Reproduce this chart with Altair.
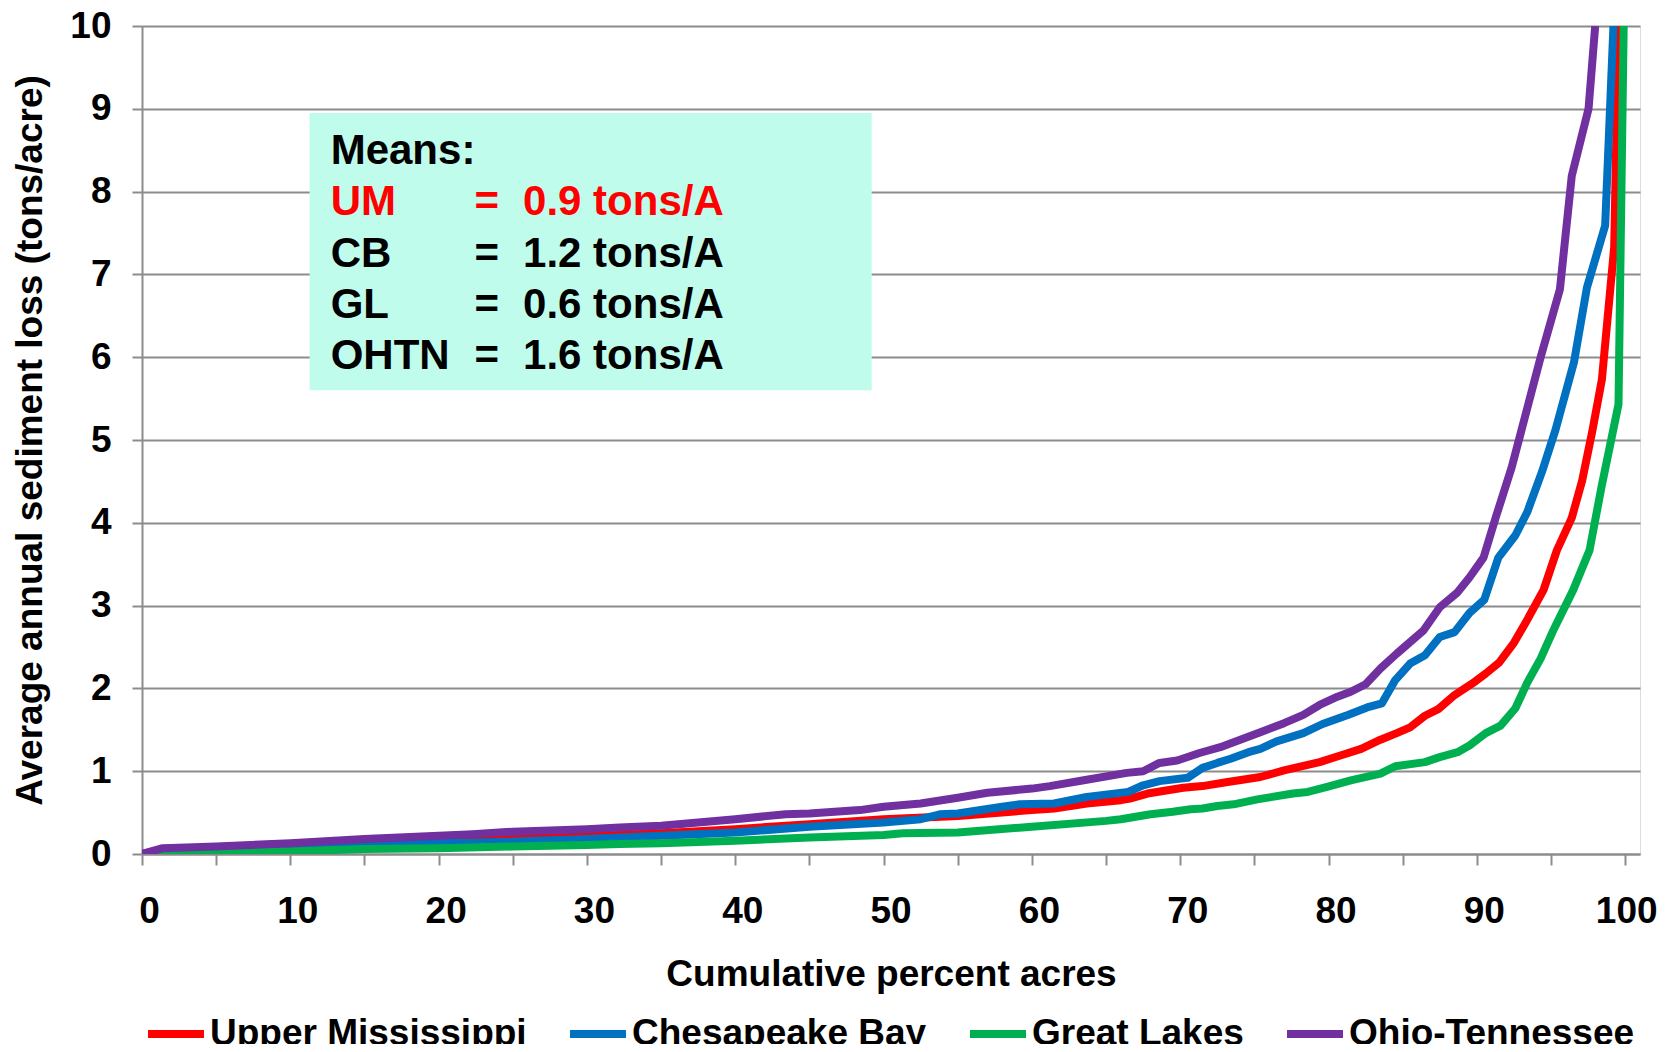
import altair as alt
import pandas as pd

FONT = "Liberation Sans"

series_names = ["Upper Mississippi", "Chesapeake Bay", "Great Lakes", "Ohio-Tennessee"]
series_colors = ["#FF0000", "#0070C0", "#00B050", "#7030A0"]

um_x = [0, 1, 5, 10, 15, 20, 25, 30, 32.2, 35, 40, 45, 50, 55, 60, 61.5, 63.7, 66, 66.6, 67.8,
        70.2, 71.5, 73.2, 75.4, 77.0, 79.4, 80.8, 82.2, 83.5, 84.6, 85.5, 86.5, 87.4, 88.5, 89.7,
        90.6, 91.5, 92.5, 93.4, 94.5, 95.4, 96.4, 97.1, 97.8, 98.43, 99.26, 99.55]
um_y = [0, 0.04, 0.06, 0.10, 0.14, 0.18, 0.20, 0.22, 0.23, 0.25, 0.30, 0.36, 0.42, 0.46, 0.53,
        0.55, 0.61, 0.65, 0.67, 0.73, 0.80, 0.82, 0.87, 0.93, 1.01, 1.11, 1.19, 1.27, 1.38, 1.46,
        1.53, 1.67, 1.75, 1.92, 2.06, 2.18, 2.31, 2.55, 2.83, 3.19, 3.67, 4.06, 4.51, 5.12, 5.73,
        7.33, 10.0]

cb_x = [0, 1, 5, 10, 15, 20, 25, 30, 32.2, 35, 40, 45, 50, 52.5, 53.8, 55, 58, 59.2, 61.5, 63.7,
        66.5, 67.5, 68.6, 70.5, 71.5, 72.5, 73.4, 74.6, 75.4, 76.5, 78.3, 79.6, 81.3, 82.6, 83.6,
        84.5, 85.5, 86.5, 87.5, 88.5, 89.5, 90.5, 91.45, 92.6, 93.4, 94.4, 95.3, 96.55, 97.42,
        98.65, 99.21]
cb_y = [0, 0.02, 0.05, 0.07, 0.10, 0.13, 0.15, 0.18, 0.20, 0.22, 0.26, 0.33, 0.38, 0.42, 0.48,
        0.49, 0.57, 0.60, 0.61, 0.69, 0.75, 0.83, 0.88, 0.92, 1.04, 1.10, 1.15, 1.23, 1.27, 1.36,
        1.46, 1.57, 1.68, 1.77, 1.82, 2.10, 2.30, 2.40, 2.62, 2.68, 2.91, 3.07, 3.58, 3.85, 4.13,
        4.62, 5.12, 5.94, 6.84, 7.59, 10.0]

gl_x = [0, 2, 5, 10, 15, 20, 25, 30, 32.2, 35, 40, 45, 50, 51.3, 55, 60, 65, 66, 68, 69.5, 70.7,
        71.5, 72.5, 73.6, 75.2, 77.6, 78.6, 79.9, 81.5, 83.5, 84.5, 86.5, 87.5, 88.7, 89.5, 90.6,
        91.6, 92.6, 93.4, 94.3, 95.1, 96.5, 97.6, 98.4, 99.55, 99.9]
gl_y = [0, 0.0, 0.01, 0.03, 0.06, 0.07, 0.09, 0.11, 0.12, 0.13, 0.16, 0.20, 0.23, 0.25, 0.26,
        0.33, 0.40, 0.42, 0.48, 0.51, 0.54, 0.55, 0.58, 0.60, 0.66, 0.73, 0.75, 0.81, 0.89, 0.97,
        1.06, 1.11, 1.17, 1.23, 1.31, 1.46, 1.55, 1.76, 2.07, 2.36, 2.68, 3.19, 3.67, 4.43, 5.43,
        10.0]

oh_x = [0, 1.4, 5, 10, 15, 20, 22.3, 25, 30, 32.2, 35, 40, 43.4, 45, 48.4, 50, 52.5, 55, 57, 60,
        61.2, 63.5, 66.4, 67.5, 68.6, 69.8, 71.3, 72.7, 73.6, 75.4, 77.0, 78.3, 79.4, 80.6, 81.5,
        82.5, 83.5, 84.6, 86.4, 87.5, 88.7, 89.5, 90.45, 91.3, 92.35, 94.3, 95.6, 96.4, 97.53,
        97.98]
oh_y = [0, 0.07, 0.09, 0.13, 0.18, 0.22, 0.24, 0.27, 0.30, 0.32, 0.34, 0.42, 0.48, 0.49, 0.53,
        0.57, 0.61, 0.68, 0.74, 0.79, 0.82, 0.89, 0.98, 1.00, 1.10, 1.13, 1.22, 1.29, 1.35, 1.47,
        1.58, 1.68, 1.80, 1.90, 1.96, 2.05, 2.24, 2.42, 2.70, 2.98, 3.16, 3.34, 3.58, 4.08, 4.67,
        6.00, 6.82, 8.19, 9.00, 10.0]

x_ticks = list(range(0, 101, 5))
y_ticks = list(range(0, 11))

means_labels = ["Means:", "UM", "CB", "GL", "OHTN"]
means_eq = ["", "=", "=", "=", "="]
means_values = ["", "0.9 tons/A", "1.2 tons/A", "0.6 tons/A", "1.6 tons/A"]
means_colors = ["#000000", "#FF0000", "#000000", "#000000", "#000000"]
means_rows_y = [8.49, 7.87, 7.25, 6.625, 6.01]
box_x = [11.3, 49.2]
box_y = [5.6, 8.95]

# ---------------------------------------------------------------------------
all_series = [(series_names[0], um_x, um_y), (series_names[1], cb_x, cb_y),
              (series_names[2], gl_x, gl_y), (series_names[3], oh_x, oh_y)]

xscale = alt.Scale(domain=[0, 101], nice=False, zero=False)
yscale = alt.Scale(domain=[0, 10], nice=False)

grid_color = "#8C8C8C"

xaxis = alt.Axis(values=x_ticks, labelExpr="datum.value % 10 == 0 ? datum.label : ''",
                 grid=False, tickSize=11, tickColor=grid_color, tickWidth=2,
                 domainColor=grid_color, domainWidth=2, labelPadding=28,
                 labelOffset={"condition": {"test": "datum.value == 100", "value": 1}, "value": 7},
                 labelFont=FONT, labelFontSize=37, labelFontWeight="bold", labelColor="black",
                 titleFont=FONT, titleFontSize=37, titleFontWeight="bold", titleColor="black",
                 titleY=131.6, titleBaseline="alphabetic", labelFlush=False, labelOverlap=False)
yaxis = alt.Axis(values=y_ticks, grid=True, gridColor=grid_color, gridWidth=2,
                 tickSize=10, tickColor=grid_color, tickWidth=2,
                 domainColor=grid_color, domainWidth=2, labelPadding=21,
                 labelFont=FONT, labelFontSize=37, labelFontWeight="bold", labelColor="black",
                 titleFont=FONT, titleFontSize=37, titleFontWeight="bold", titleColor="black",
                 titleX=-112, titleBaseline="middle", labelFlush=False, labelOverlap=False)

XT = "Cumulative percent acres"
YT = "Average annual sediment loss (tons/acre)"


def xenc(field):
    return alt.X(field, type="quantitative", scale=xscale, axis=xaxis, title=XT)


def yenc(field):
    return alt.Y(field, type="quantitative", scale=yscale, axis=yaxis, title=YT)


box_df = pd.DataFrame({"x1": [box_x[0]], "x2": [box_x[1]], "y1": [box_y[0]], "y2": [box_y[1]]})
box = alt.Chart(box_df).mark_rect(color="#C0FCEC").encode(
    x=xenc("x1"), x2="x2", y=yenc("y1"), y2="y2")

color_enc = alt.Color(
    "series:N",
    scale=alt.Scale(domain=series_names, range=series_colors),
    legend=alt.Legend(title=None, orient="none", legendX=2, legendY=976,
                      direction="horizontal", symbolType="stroke", symbolSize=3136,
                      symbolStrokeWidth=8, labelFont=FONT, labelFontSize=37,
                      labelFontWeight="bold", labelColor="black", labelOffset=2,
                      columnPadding=27, labelLimit=700, padding=0),
)

line_layers = []
for name, xs, ys in all_series:
    df = pd.DataFrame({"pct": xs, "loss": ys, "series": [name] * len(xs)})
    line_layers.append(
        alt.Chart(df).mark_line(strokeWidth=8, strokeJoin="round", strokeCap="butt", clip=True)
        .encode(x=xenc("pct"), y=yenc("loss"), color=color_enc, order="pct:Q")
    )

txt_rows = []
for i in range(len(means_labels)):
    txt_rows.append({"tx": 12.72, "ty": means_rows_y[i], "t": means_labels[i], "c": means_colors[i]})
    if means_eq[i]:
        txt_rows.append({"tx": 22.42, "ty": means_rows_y[i], "t": means_eq[i], "c": means_colors[i]})
    if means_values[i]:
        txt_rows.append({"tx": 25.69, "ty": means_rows_y[i], "t": means_values[i], "c": means_colors[i]})
txt_df = pd.DataFrame(txt_rows)
texts = alt.Chart(txt_df).mark_text(align="left", baseline="middle", font=FONT, fontSize=42,
                                     fontWeight="bold").encode(
    x=xenc("tx"), y=yenc("ty"), text="t:N", color=alt.Color("c:N", scale=None))

chart = alt.layer(box, *line_layers, texts).properties(
    width=1498, height=828,
    autosize=alt.AutoSizeParams(type="none"),
    padding={"left": 134, "top": 18, "right": 17, "bottom": 190},
).configure_view(stroke=None).configure_legend(symbolStrokeWidth=8).configure(background="white")

chart.save("out.html", embed_options={"renderer": "svg", "actions": False})
